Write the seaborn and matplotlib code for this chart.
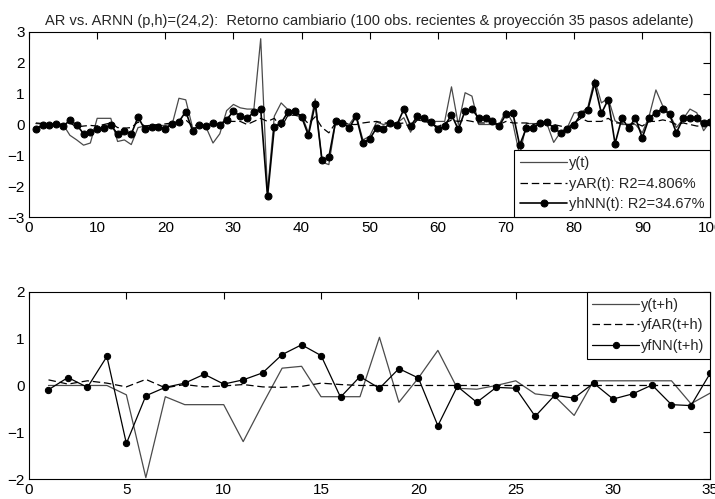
import numpy as np
import pandas as pd
import seaborn as sns
import matplotlib.pyplot as plt

# Datos: últimas 100 observaciones
y_t = [0.03, 0.02, 0.0, 0.02, 0.0, -0.35, -0.5, -0.67, -0.6, 0.2,
       0.2, 0.2, -0.55, -0.5, -0.65, -0.1, -0.05, -0.05, -0.03, -0.03,
       0.0, 0.85, 0.8, -0.1, -0.1, -0.1, -0.6, -0.3, 0.45, 0.65,
       0.54, 0.5, 0.5, 2.78, -2.2, 0.27, 0.7, 0.48, 0.32, 0.32,
       -0.27, 0.83, -1.22, -1.3, 0.1, 0.1, 0.0, 0.32, -0.5, -0.38,
       0.08, 0.0, 0.05, 0.05, 0.22, -0.25, 0.27, 0.1, 0.1, 0.1,
       0.1, 1.22, 0.0, 1.03, 0.92, 0.0, 0.0, 0.0, 0.0, 0.45,
       0.05, -1.0, 0.03, 0.03, 0.03, 0.03, -0.58, -0.25, -0.1, 0.38,
       0.38, 0.55, 1.47, 0.7, 0.85, 0.12, 0.0, 0.0, 0.0, -0.27,
       0.27, 1.12, 0.6, 0.33, -0.1, 0.18, 0.5, 0.38, -0.2, 0.1]

y_ar = [0.05, 0.03, 0.0, 0.02, 0.0, 0.05, -0.08, -0.05, -0.03, -0.05,
        0.0, 0.05, -0.1, -0.12, -0.1, 0.08, -0.05, -0.02, 0.0, 0.02,
        0.05, 0.1, 0.15, -0.05, 0.0, 0.02, -0.03, 0.05, 0.1, 0.1,
        0.1, 0.0, 0.1, 0.2, 0.1, 0.2, -0.1, 0.3, 0.3, 0.25,
        0.03, 0.25, -0.1, -0.27, 0.05, 0.05, 0.0, 0.0, 0.05, 0.08,
        0.1, 0.05, 0.05, 0.02, 0.05, -0.1, 0.15, 0.1, 0.05, -0.08,
        0.05, 0.14, 0.1, 0.14, 0.1, 0.05, 0.05, 0.05, 0.0, 0.1,
        0.05, 0.05, 0.05, 0.0, 0.05, 0.05, 0.0, -0.05, -0.1, 0.05,
        0.2, 0.1, 0.1, 0.1, 0.2, 0.05, 0.05, 0.0, 0.05, -0.05,
        0.1, 0.1, 0.15, 0.1, 0.0, 0.05, 0.0, -0.05, -0.05, 0.05]

y_nn = [-0.13, -0.03, -0.03, 0.02, -0.05, 0.13, -0.01, -0.3, -0.24, -0.16,
        -0.11, -0.02, -0.31, -0.2, -0.31, 0.24, -0.16, -0.09, -0.08, -0.14,
        0.03, 0.09, 0.42, -0.2, -0.02, -0.05, 0.05, -0.02, 0.16, 0.43,
        0.27, 0.2, 0.4, 0.5, -2.33, -0.08, 0.05, 0.41, 0.45, 0.25,
        -0.35, 0.67, -1.16, -1.06, 0.11, 0.05, -0.11, 0.27, -0.6, -0.47,
        -0.11, -0.16, 0.05, 0.0, 0.49, -0.05, 0.27, 0.22, 0.08, -0.16,
        -0.05, 0.32, -0.16, 0.45, 0.5, 0.2, 0.2, 0.12, -0.05, 0.33,
        0.38, -0.67, -0.11, -0.11, 0.05, 0.08, -0.11, -0.27, -0.16, 0.0,
        0.33, 0.47, 1.33, 0.36, 0.81, -0.62, 0.2, -0.11, 0.21, -0.43,
        0.21, 0.38, 0.51, 0.33, -0.27, 0.2, 0.2, 0.22, 0.05, 0.08]

# Proyección 35 pasos adelante
y_th = [0.0, 0.0, 0.0, 0.0, -0.2, -1.97, -0.24, -0.41, -0.41, -0.41,
        -1.2, -0.4, 0.37, 0.41, -0.24, -0.24, -0.24, 1.03, -0.36, 0.16,
        0.75, -0.06, -0.08, 0.0, 0.1, -0.18, -0.23, -0.64, 0.1, 0.1,
        0.1, 0.1, 0.1, -0.39, -0.16]
yf_ar = [0.12, 0.03, 0.1, 0.05, -0.03, 0.13, -0.05, 0.02, -0.03, -0.01,
         0.02, -0.03, -0.04, -0.02, 0.05, 0.02, 0.0, 0.0, 0.0, 0.0,
         0.0, 0.0, 0.0, 0.0, 0.0, 0.0, 0.0, 0.0, 0.0, 0.0,
         0.0, 0.0, 0.0, 0.0, 0.0]
yf_nn = [-0.09, 0.17, -0.04, 0.62, -1.24, -0.22, -0.04, 0.05, 0.24, 0.03,
         0.12, 0.27, 0.66, 0.87, 0.64, -0.25, 0.19, -0.06, 0.36, 0.16,
         -0.86, -0.02, -0.36, -0.04, -0.06, -0.66, -0.21, -0.27, 0.05, -0.29,
         -0.18, 0.01, -0.41, -0.43, 0.27]

t1 = np.arange(1, len(y_t) + 1)
t2 = np.arange(1, len(y_th) + 1)

sns.set_style("white")
plt.rcParams["font.family"] = ["Liberation Sans", "DejaVu Sans"]

fig = plt.figure(figsize=(7.15, 4.99), dpi=100)
ax1 = fig.add_axes([0.0406, 0.565, 0.953, 0.371])
ax2 = fig.add_axes([0.0406, 0.040, 0.953, 0.375])

gris = "#4a4a4a"

sns.lineplot(x=t1, y=y_t, ax=ax1, color=gris, lw=0.9, label="y(t)")
sns.lineplot(x=t1, y=y_ar, ax=ax1, color="black", lw=0.9,
             linestyle=(0, (6, 3)), label="yAR(t): R2=4.806%")
sns.lineplot(x=t1, y=y_nn, ax=ax1, color="black", lw=1.2, marker="o",
             markersize=5, markeredgecolor="black", label="yhNN(t): R2=34.67%")

sns.lineplot(x=t2, y=y_th, ax=ax2, color=gris, lw=0.9, label="y(t+h)")
sns.lineplot(x=t2, y=yf_ar, ax=ax2, color="black", lw=0.9,
             linestyle=(0, (6, 3)), label="yfAR(t+h)")
sns.lineplot(x=t2, y=yf_nn, ax=ax2, color="black", lw=0.9, marker="o",
             markersize=4.5, markeredgecolor="black", label="yfNN(t+h)")

ax1.set_xlim(0, 100)
ax1.set_ylim(-3, 3)
ax1.set_xticks(range(0, 101, 10))
ax1.set_yticks(range(-3, 4))
ax2.set_xlim(0, 35)
ax2.set_ylim(-2, 2)
ax2.set_xticks(range(0, 36, 5))
ax2.set_yticks(range(-2, 3))

for ax in (ax1, ax2):
    for s in ax.spines.values():
        s.set_visible(True)
        s.set_color("black")
        s.set_linewidth(0.8)
    ax.tick_params(direction="in", length=5, width=0.8, top=True, right=True,
                   labelsize=11, colors="black", pad=3)
    ax.set_xlabel("")
    ax.set_ylabel("")

ax1.set_title("AR vs. ARNN (p,h)=(24,2):  Retorno cambiario (100 obs. recientes & proyección 35 pasos adelante)",
              fontsize=10.5, pad=5)

estilo_leyenda = dict(fontsize=10.5, frameon=True, fancybox=False, edgecolor="black",
                      framealpha=1, borderaxespad=0, handlelength=3.2,
                      handletextpad=0.15, labelspacing=0.45, borderpad=0.4)
leg1 = ax1.legend(loc="lower right", **estilo_leyenda)
leg1.get_frame().set_linewidth(0.8)
leg2 = ax2.legend(loc="upper right", **estilo_leyenda)
leg2.get_frame().set_linewidth(0.8)

plt.savefig("out.png", dpi=100)
